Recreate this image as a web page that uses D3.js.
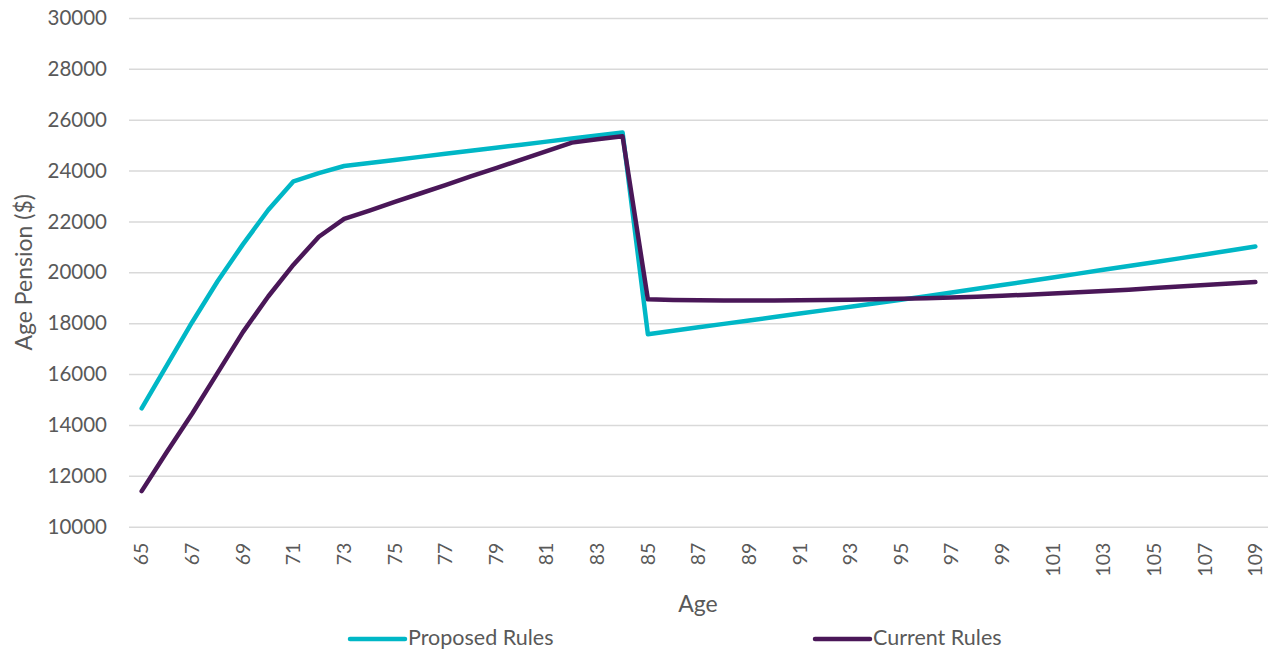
<!DOCTYPE html>
<html>
<head>
<meta charset="utf-8">
<script src="https://cdn.jsdelivr.net/npm/d3@7"></script>
<style>
  body { margin: 0; background: #fff; }
  svg text { font-family: Lato, "Open Sans", sans-serif; fill: #595959; }
  .grid line { stroke: #d9d9d9; stroke-width: 1.5; }
  .grid .domain { display: none; }
</style>
</head>
<body>
<svg id="chart" width="1274" height="651"></svg>
<script>
// ages on the x axis
const ages = d3.range(65, 110)

// Age Pension ($) by age
const proposed = [
  14650, 16350, 18050, 19650, 21100, 22450, 23580, 23900, 24180, 24300,
  24420, 24540, 24660, 24780, 24900, 25020, 25140, 25260, 25380, 25500,
  17570, 17705, 17840, 17975, 18110, 18245, 18380, 18515, 18650, 18785,
  18920, 19065, 19210, 19355, 19500, 19650, 19800, 19950, 20100, 20250,
  20400, 20550, 20705, 20860, 21015
]
const current = [
  11400, 12950, 14450, 16050, 17650, 19050, 20300, 21400, 22100, 22430,
  22770, 23100, 23430, 23770, 24100, 24430, 24770, 25100, 25230, 25350,
  18940, 18910, 18900, 18890, 18890, 18890, 18900, 18910, 18920, 18940,
  18960, 18980, 19010, 19040, 19080, 19120, 19170, 19220, 19270, 19320,
  19380, 19440, 19500, 19560, 19620
]

const seriesNames = ['Proposed Rules', 'Current Rules']
const seriesColors = ['#00B7C6', '#4A1758']
const yTicks = d3.range(10000, 30001, 2000)

const svg = d3.select('#chart')
const plotLeft = 129, plotRight = 1268, plotTop = 18, plotBottom = 526.7

const x = d3.scaleBand().domain(ages).range([plotLeft, plotRight]).padding(0)
const y = d3.scaleLinear().domain([10000, 30000]).range([plotBottom, plotTop])
const cx = (a) => x(a) + x.bandwidth() / 2

// gridlines + y labels
const gy = svg.append('g')
    .attr('class', 'grid')
    .attr('transform', 'translate(' + plotLeft + ',0)')
    .call(d3.axisLeft(y).tickValues(yTicks).tickSize(-(plotRight - plotLeft)).tickPadding(22).tickFormat(d3.format('d')))
gy.selectAll('text').style('font-size', '20.5px')

// x labels, every second age, rotated
const gx = svg.append('g')
    .attr('transform', 'translate(0,' + plotBottom + ')')
    .call(d3.axisBottom(x).tickValues(ages.filter((a) => a % 2 == 1)).tickSize(0))
gx.select('.domain').remove()
gx.selectAll('text')
    .style('font-size', '19.5px')
    .attr('text-anchor', 'end')
    .attr('dy', '0.35em')
    .attr('transform', 'translate(0,16) rotate(-90)')
    .attr('x', 0).attr('y', 0)

const line = d3.line().x((d, i) => cx(ages[i])).y((d) => y(d))

const data = [proposed, current]
svg.selectAll('.series')
    .data(data)
    .enter().append('path')
    .attr('class', 'series')
    .attr('d', (d) => line(d))
    .attr('fill', 'none')
    .attr('stroke', (d, i) => seriesColors[i])
    .attr('stroke-width', 4.5)
    .attr('stroke-linejoin', 'round')
    .attr('stroke-linecap', 'round')

// axis titles
svg.append('text')
    .attr('transform', 'translate(32,' + ((plotTop + plotBottom) / 2) + ') rotate(-90)')
    .attr('text-anchor', 'middle')
    .style('font-size', '23px')
    .text('Age Pension ($)')
svg.append('text')
    .attr('x', 698).attr('y', 612)
    .attr('text-anchor', 'middle')
    .style('font-size', '23px')
    .text('Age')

// legend
const legendX = [350, 815]
const lg = svg.selectAll('.legend')
    .data(seriesNames)
    .enter().append('g')
    .attr('class', 'legend')
    .attr('transform', (d, i) => 'translate(' + legendX[i] + ',639)')
lg.append('line')
    .attr('x1', 0).attr('x2', 55)
    .attr('stroke', (d, i) => seriesColors[i])
    .attr('stroke-width', 4.5)
    .attr('stroke-linecap', 'round')
lg.append('text')
    .attr('x', 58).attr('dy', '0.3em')
    .style('font-size', '21.5px')
    .text((d) => d)
</script>
</body>
</html>
